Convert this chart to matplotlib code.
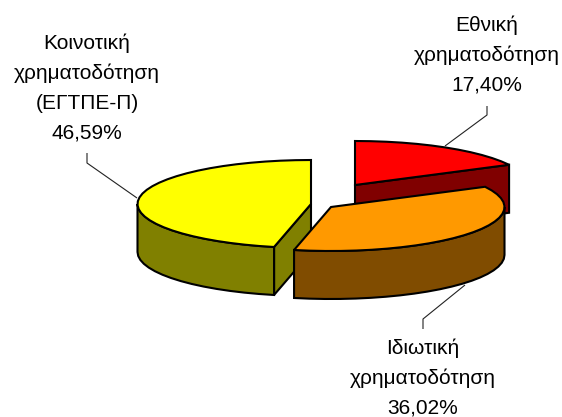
import numpy as np
import matplotlib
matplotlib.use("Agg")
import matplotlib.pyplot as plt
from matplotlib.patches import Polygon

labels = ["Εθνική\nχρηματοδότηση\n17,40%",
          "Ιδιωτική\nχρηματοδότηση\n36,02%",
          "Κοινοτική\nχρηματοδότηση\n(ΕΓΤΠΕ-Π)\n46,59%"]
values = [17.40, 36.02, 46.59]
top_colors = ["#FF0000", "#FF9900", "#FFFF00"]
side_colors = ["#800000", "#804C00", "#808000"]

W, H = 562, 417
A, B, DEPTH = 173.5, 44.0, 48.0
centers = [(355, 185), (331, 207), (311, 204)]
label_pos = [(487, 55), (423, 378), (87, 88)]
leaders = [[(445, 146), (487, 115), (487, 106)],
           [(465, 285), (423, 319), (423, 329)],
           [(137, 198), (87, 163), (87, 153)]]
# which cut edge of each slice shows its flat face: end, none, start
cut_face = ["end", None, "start"]

fig = plt.figure(figsize=(W / 100, H / 100), dpi=100)
ax = fig.add_axes([0, 0, 1, 1])
ax.set_xlim(0, W)
ax.set_ylim(H, 0)
ax.axis("off")

def rim(cx, cy, t0, t1, dz=0.0):
    # coarse polyline, like the faceted outline of the original chart
    n = max(int(abs(t1 - t0) / 5), 1) + 1
    t = np.radians(np.linspace(t0, t1, n))
    return np.column_stack([cx + A * np.sin(t), cy - B * np.cos(t) + dz])

fractions = np.array(values) / np.sum(values)
edges = np.concatenate([[0], np.cumsum(fractions) * 360])
kw = dict(edgecolor="black", linewidth=1.5, joinstyle="miter")

for i in [0, 2, 1]:
    cx, cy = centers[i]
    t0, t1 = edges[i], edges[i + 1]
    if cut_face[i]:
        t = t1 if cut_face[i] == "end" else t0
        ex, ey = rim(cx, cy, t, t)[0]
        face = [(cx, cy), (ex, ey), (ex, ey + DEPTH), (cx, cy + DEPTH)]
        ax.add_patch(Polygon(face, closed=True, facecolor=side_colors[i], **kw))
    w0, w1 = max(t0, 90), min(t1, 270)
    if w1 > w0:
        upper = rim(cx, cy, w0, w1)
        lower = rim(cx, cy, w0, w1, DEPTH)[::-1]
        ax.add_patch(Polygon(np.vstack([upper, lower]), closed=True,
                             facecolor=side_colors[i], **kw))
    top = np.vstack([[(cx, cy)], rim(cx, cy, t0, t1)])
    ax.add_patch(Polygon(top, closed=True, facecolor=top_colors[i], **kw))

for pts in leaders:
    xs, ys = zip(*pts)
    ax.plot(xs, ys, color="#222222", linewidth=0.8, solid_capstyle="butt")

for lab, (x, y) in zip(labels, label_pos):
    ax.text(x, y, lab, ha="center", va="center", fontsize=15,
            family="Liberation Sans", color="black", linespacing=1.7)

fig.savefig("out.png", dpi=100)
